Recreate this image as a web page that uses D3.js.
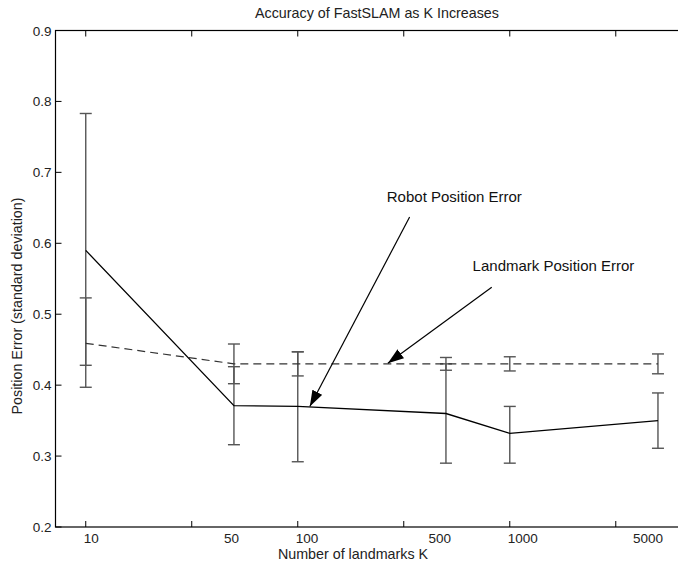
<!DOCTYPE html>
<html>
<head>
<meta charset="utf-8">
<script src="https://cdn.jsdelivr.net/npm/d3@7"></script>
<style>
  body { margin: 0; background: #fff; }
  svg { display: block; font-family: "Liberation Sans", Arial, sans-serif; }
</style>
</head>
<body>
<div class="chart"></div>
<script>
// data
var kValues = [10, 50, 100, 500, 1000, 5000];
var robotError = [0.59, 0.371, 0.37, 0.36, 0.332, 0.35];
var robotLow = [0.397, 0.316, 0.292, 0.29, 0.29, 0.311];
var robotHigh = [0.783, 0.426, 0.447, 0.43, 0.37, 0.389];
var landmarkError = [0.459, 0.43, 0.43, 0.43, 0.43, 0.43];
var landmarkLow = [0.428, 0.402, 0.413, 0.421, 0.42, 0.416];
var landmarkHigh = [0.523, 0.458, 0.447, 0.439, 0.44, 0.444];

// the original figure puts its tick marks on half decades
var xTickValues = [10, 31.62, 100, 316.2, 1000, 3162];
var xTickLabels = ["10", "50", "100", "500", "1000", "5000"];
var yTickValues = [0.2, 0.3, 0.4, 0.5, 0.6, 0.7, 0.8, 0.9];

// annotation text and arrows, in data units
var notes = [
    {text: "Robot Position Error", tx: 263, ty: 0.665, from: [337, 0.637], to: [114, 0.37]},
    {text: "Landmark Position Error", tx: 668, ty: 0.568, from: [822, 0.538], to: [266, 0.431]}
];

var svgWidth = 678;
var svgHeight = 567;

var margin = {top: 30.5, left: 55.5};
var plotHeight = 496.5;

var svg = d3.select(".chart")
    .append("svg")
    .attr("width", svgWidth)
    .attr("height", svgHeight);

var xScale = d3.scaleLog()
    .domain([7.2, 8600])
    .range([margin.left, margin.left + 652.4]);

var yScale = d3.scaleLinear()
    .domain([0.2, 0.9])
    .range([margin.top + plotHeight, margin.top]);

var x0 = xScale.range()[0], x1 = xScale.range()[1];
var yTop = yScale(0.9), yBot = yScale(0.2);

// frame
svg.append("rect")
    .attr("x", x0)
    .attr("y", yTop)
    .attr("width", x1 - x0)
    .attr("height", yBot - yTop)
    .attr("fill", "none")
    .attr("stroke", "#000")
    .attr("stroke-width", 1.2);

// x ticks, inward on bottom and top
var tickLen = 6;
svg.selectAll("line.xtick-b")
    .data(xTickValues)
    .enter()
    .append("line")
    .attr("x1", d => xScale(d))
    .attr("x2", d => xScale(d))
    .attr("y1", yBot)
    .attr("y2", yBot - tickLen)
    .attr("stroke", "#000");

svg.selectAll("line.xtick-t")
    .data(xTickValues)
    .enter()
    .append("line")
    .attr("x1", d => xScale(d))
    .attr("x2", d => xScale(d))
    .attr("y1", yTop)
    .attr("y2", yTop + tickLen)
    .attr("stroke", "#000");

// x tick labels
svg.selectAll("text.xlab")
    .data(xTickLabels)
    .enter()
    .append("text")
    .attr("x", function(d) {
        var decade = d.charAt(0) === "1";
        return decade ? xScale(+d) - 2 : xScale(+d) + 5;
    })
    .attr("y", yBot + 16)
    .attr("text-anchor", d => d.charAt(0) === "1" ? "start" : "end")
    .style("font-size", "13.5px")
    .attr("fill", "#222")
    .text(d => d);

// y ticks, inward
svg.selectAll("line.ytick")
    .data(yTickValues)
    .enter()
    .append("line")
    .attr("x1", x0)
    .attr("x2", x0 + tickLen)
    .attr("y1", d => yScale(d))
    .attr("y2", d => yScale(d))
    .attr("stroke", "#000");

svg.selectAll("text.ylab")
    .data(yTickValues)
    .enter()
    .append("text")
    .attr("x", x0 - 4)
    .attr("y", d => yScale(d) + 5)
    .attr("text-anchor", "end")
    .style("font-size", "13.5px")
    .attr("fill", "#222")
    .text(d => d.toFixed(1));

// axis titles
svg.append("text")
    .attr("x", 353)
    .attr("y", yBot + 32)
    .attr("text-anchor", "middle")
    .style("font-size", "14.3px")
    .attr("fill", "#222")
    .text("Number of landmarks K");

svg.append("text")
    .attr("transform", `translate(22, 306) rotate(-90)`)
    .attr("text-anchor", "middle")
    .style("font-size", "14.3px")
    .attr("fill", "#222")
    .text("Position Error (standard deviation)");

svg.append("text")
    .attr("x", 377)
    .attr("y", 18)
    .attr("text-anchor", "middle")
    .style("font-size", "14.3px")
    .attr("fill", "#222")
    .text("Accuracy of FastSLAM as K Increases");

// error bars
function drawBars(lows, highs) {
    var g = svg.append("g")
        .attr("stroke", "#555")
        .attr("stroke-width", 1.4);
    kValues.forEach(function(k, i) {
        var cx = xScale(k);
        g.append("line")
            .attr("x1", cx).attr("x2", cx)
            .attr("y1", yScale(lows[i])).attr("y2", yScale(highs[i]));
        [lows[i], highs[i]].forEach(function(v) {
            g.append("line")
                .attr("x1", cx - 6).attr("x2", cx + 6)
                .attr("y1", yScale(v)).attr("y2", yScale(v));
        });
    });
}
drawBars(robotLow, robotHigh);
drawBars(landmarkLow, landmarkHigh);

var lineGen = d3.line()
    .x((d, i) => xScale(kValues[i]))
    .y(d => yScale(d));

svg.append("path")
    .datum(landmarkError)
    .attr("d", lineGen)
    .attr("fill", "none")
    .attr("stroke", "#333")
    .attr("stroke-width", 1.2)
    .attr("stroke-dasharray", "8,5");

svg.append("path")
    .datum(robotError)
    .attr("d", lineGen)
    .attr("fill", "none")
    .attr("stroke", "#000")
    .attr("stroke-width", 1.3);

// arrow marker
svg.append("defs")
    .append("marker")
    .attr("id", "arrow")
    .attr("viewBox", "0 0 16 11")
    .attr("refX", 16)
    .attr("refY", 5.5)
    .attr("markerWidth", 16)
    .attr("markerHeight", 11)
    .attr("markerUnits", "userSpaceOnUse")
    .attr("orient", "auto")
    .append("path")
    .attr("d", "M0,0 L16,5.5 L0,11 Z")
    .attr("fill", "#000");

// annotations
notes.forEach(function(n) {
    svg.append("text")
        .attr("x", xScale(n.tx))
        .attr("y", yScale(n.ty) + 5)
        .style("font-size", "15px")
        .attr("fill", "#111")
        .text(n.text);
    svg.append("line")
        .attr("x1", xScale(n.from[0]))
        .attr("y1", yScale(n.from[1]))
        .attr("x2", xScale(n.to[0]))
        .attr("y2", yScale(n.to[1]))
        .attr("stroke", "#000")
        .attr("stroke-width", 1.2)
        .attr("marker-end", "url(#arrow)");
});
</script>
</body>
</html>
